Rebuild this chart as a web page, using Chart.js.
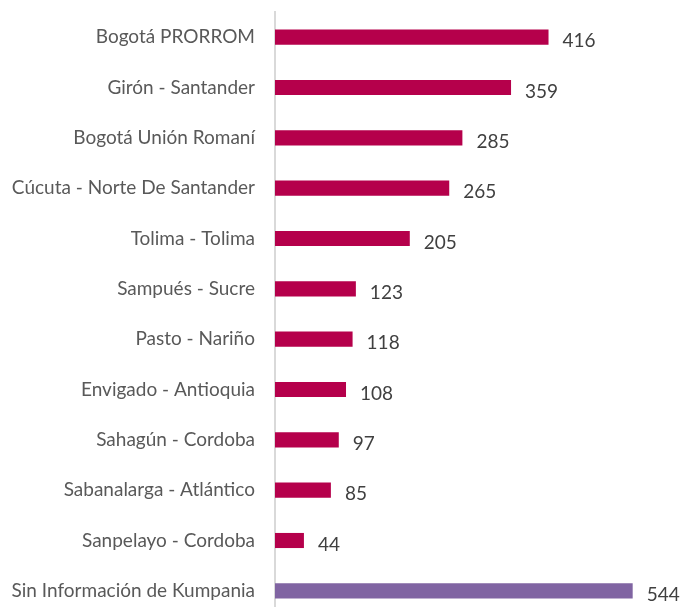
<!DOCTYPE html>
<html>
<head>
<meta charset="utf-8">
<script src="https://cdn.jsdelivr.net/npm/chart.js@4.4.0/dist/chart.umd.min.js"></script>
<style>
  html, body { margin: 0; padding: 0; background: #fff; overflow: hidden; }
  #wrap { width: 682px; height: 616px; position: relative; }
</style>
</head>
<body>
<div id="wrap"><canvas id="graph"></canvas></div>
<script>
const labels = [
    'Bogotá PRORROM',
    'Girón - Santander',
    'Bogotá Unión Romaní',
    'Cúcuta - Norte De Santander',
    'Tolima - Tolima',
    'Sampués - Sucre',
    'Pasto - Nariño',
    'Envigado - Antioquia',
    'Sahagún - Cordoba',
    'Sabanalarga - Atlántico',
    'Sanpelayo - Cordoba',
    'Sin Información de Kumpania'
];
const values = [416, 359, 285, 265, 205, 123, 118, 108, 97, 85, 44, 544];
const barColors = values.map((v, i) => i === values.length - 1 ? '#8064A2' : '#B5004B');

// writes the number just after the end of each bar
const valueLabels = {
    id: 'valueLabels',
    afterDatasetsDraw(chart) {
        const ctx = chart.ctx;
        const meta = chart.getDatasetMeta(0);
        ctx.save();
        ctx.font = '19px Lato';
        ctx.fillStyle = '#404040';
        ctx.textAlign = 'left';
        ctx.textBaseline = 'middle';
        meta.data.forEach((bar, i) => {
            ctx.fillText(values[i], bar.x + 14, bar.y + 4);
        });
        ctx.restore();
    }
};

const data = {
    labels: labels,
    datasets: [{
        data: values,
        backgroundColor: barColors,
        borderWidth: 0,
        barPercentage: 0.6,
        categoryPercentage: 0.5
    }]
};

const config = {
    type: 'bar',
    data: data,
    options: {
        indexAxis: 'y',
        responsive: true,
        maintainAspectRatio: false,
        animation: false,
        layout: { padding: { top: 12, right: 0, bottom: 0, left: 0 } },
        plugins: {
            legend: { display: false },
            tooltip: { enabled: false }
        },
        scales: {
            x: {
                display: false,
                min: 0,
                max: 619
            },
            y: {
                afterFit(scale) {
                    scale.width = 275;
                    scale.paddingTop = 0;
                    scale.paddingBottom = 0;
                },
                grid: { display: false },
                border: { display: true, color: '#d9d9d9', width: 2 },
                ticks: {
                    color: '#595959',
                    padding: 12,
                    font: { family: 'Lato', size: 19 }
                }
            }
        }
    },
    plugins: [valueLabels]
};

const graph = new Chart(document.getElementById('graph'), config);
</script>
</body>
</html>
